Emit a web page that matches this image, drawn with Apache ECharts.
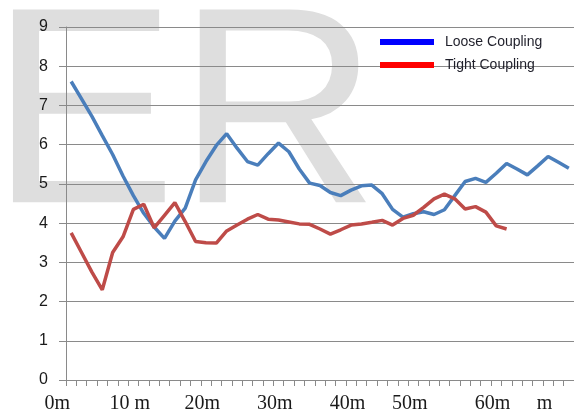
<!DOCTYPE html>
<html>
<head>
<meta charset="utf-8">
<script src="https://cdn.jsdelivr.net/npm/echarts@6/dist/echarts.min.js"></script>
<style>
  html, body { margin: 0; padding: 0; background: #fff; }
  #chart { width: 574px; height: 414px; }
</style>
</head>
<body>
<div id="chart"></div>
<script>
// readings per step along the track (49 steps)
var looseCoupling = [7.61, 7.17, 6.72, 6.23, 5.75, 5.2, 4.7, 4.25, 3.9, 3.61,
  4.05, 4.38, 5.1, 5.57, 5.98, 6.28, 5.91, 5.57, 5.48, 5.77,
  6.04, 5.82, 5.38, 5.02, 4.96, 4.78, 4.7, 4.84, 4.95, 4.97,
  4.75, 4.35, 4.15, 4.24, 4.29, 4.22, 4.34, 4.7, 5.06, 5.14,
  5.04, 5.27, 5.52, 5.38, 5.23, 5.46, 5.7, 5.55, 5.4];
var tightCoupling = [3.75, 3.25, 2.75, 2.3, 3.25, 3.65, 4.35, 4.48, 3.88, 4.2,
  4.52, 4.04, 3.53, 3.5, 3.49, 3.8, 3.95, 4.1, 4.22, 4.1,
  4.08, 4.03, 3.98, 3.97, 3.85, 3.72, 3.83, 3.95, 3.98, 4.02,
  4.07, 3.95, 4.12, 4.2, 4.4, 4.62, 4.74, 4.62, 4.36, 4.42,
  4.28, 3.93, 3.85, null, null, null, null, null, null];
var xTickIndex = [0, 7, 14, 21, 28, 34, 42, 47];
var xTickLabels = ["0m", "10 m", "20m", "30m", "40m", "50m", "60m", "m"];
var seriesNames = ["Loose Coupling", "Tight Coupling"];

var categories = [];
for (var i = 0; i < looseCoupling.length; i++) categories.push(String(i));

var labelAt = {};
xTickIndex.forEach(function (idx, k) { labelAt[idx] = xTickLabels[k]; });

var option = {
  animation: false,
  backgroundColor: "#fff",
  graphic: [{
    type: "text",
    left: -10,
    top: -15,
    z: -10,
    silent: true,
    style: {
      text: "ER",
      fontFamily: "Liberation Sans",
      fontSize: 280,
      fill: "#dedede"
    }
  }],
  grid: { left: 66, right: -3, top: 27, bottom: 34 },
  legend: {
    orient: "vertical",
    left: 375,
    top: 30,
    icon: "rect",
    itemWidth: 54,
    itemHeight: 6,
    itemGap: 9,
    textStyle: {
      fontFamily: "Liberation Sans",
      fontSize: 14,
      color: "#1f1f2a",
      padding: [0, 0, 0, 6]
    },
    data: [
      { name: seriesNames[0], itemStyle: { color: "#0000ff" } },
      { name: seriesNames[1], itemStyle: { color: "#ff0000" } }
    ]
  },
  xAxis: {
    type: "category",
    data: categories,
    boundaryGap: true,
    axisLine: { lineStyle: { color: "#8a8a8a", width: 1 } },
    axisTick: { show: true, interval: 0, length: 6, lineStyle: { color: "#8a8a8a" } },
    axisLabel: {
      interval: function (idx) { return labelAt[idx] !== undefined; },
      formatter: function (v, idx) { return labelAt[idx] || ""; },
      fontFamily: "Liberation Serif",
      fontSize: 20,
      color: "#1a1a1a",
      margin: 14,
      padding: [0, 28, 0, 0]
    },
    splitLine: { show: false }
  },
  yAxis: {
    type: "value",
    min: 0,
    max: 9,
    interval: 1,
    axisLine: { show: true, lineStyle: { color: "#8a8a8a", width: 1 } },
    axisTick: { show: true, length: 7, lineStyle: { color: "#8a8a8a" } },
    axisLabel: {
      fontFamily: "Liberation Sans",
      fontSize: 16,
      color: "#1a1a1a",
      margin: 18
    },
    splitLine: { lineStyle: { color: "#8a8a8a", width: 1 } }
  },
  series: [
    {
      name: seriesNames[0],
      type: "line",
      data: looseCoupling,
      showSymbol: false,
      symbol: "none",
      lineStyle: { color: "#4a7ebb", width: 3.5 },
      itemStyle: { color: "#4a7ebb" }
    },
    {
      name: seriesNames[1],
      type: "line",
      data: tightCoupling,
      showSymbol: false,
      symbol: "none",
      lineStyle: { color: "#be4b48", width: 3.5 },
      itemStyle: { color: "#be4b48" }
    }
  ]
};

var myChart = echarts.init(document.getElementById("chart"));
myChart.setOption(option);
</script>
</body>
</html>
